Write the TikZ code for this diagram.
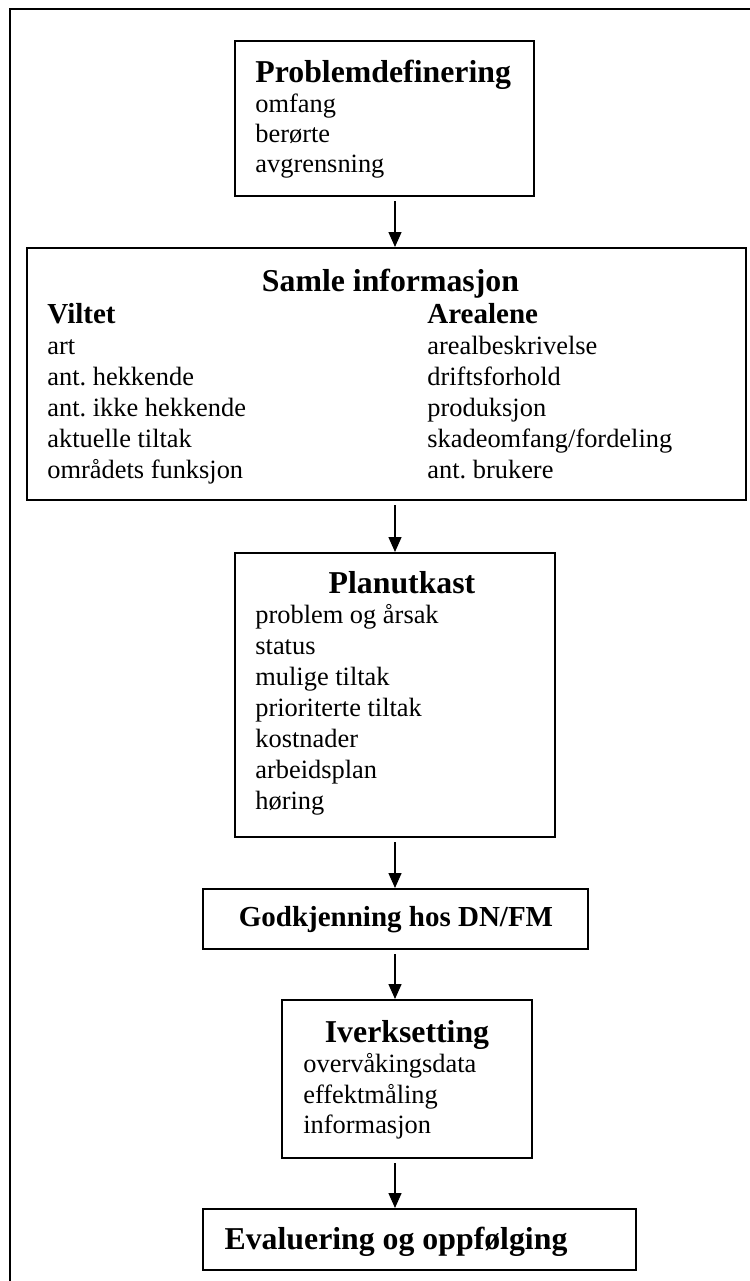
\documentclass[tikz,border=0pt]{standalone}
\usepackage{fontspec}
\setmainfont{Liberation Serif}
\usetikzlibrary{arrows.meta, positioning, calc}
\frenchspacing

\begin{document}
\begin{tikzpicture}[
    x=0.5pt, y=-0.5pt,
    frame/.style={draw=black, line width=1pt},
    box/.style={draw=black, line width=1pt, inner sep=0pt},
    arrow/.style={-{Triangle[length=7.5pt, width=6.5pt]}, line width=0.7pt, shorten <=2pt},
    heading/.style={inner sep=0pt, font=\fontsize{15.9}{18}\selectfont\bfseries},
    subheading/.style={inner sep=0pt, font=\fontsize{14.5}{17}\selectfont\bfseries},
    item/.style={inner sep=0pt, font=\fontsize{13.2}{15}\selectfont}
  ]

  \useasboundingbox (0,0) rectangle (750,1281);

  % page frame (top and left edge only)
  \draw[frame] (750,9) -| (10,1281);

  % common vertical line for the arrows
  \coordinate (spine) at (395,0);

  % Problemdefinering
  \node[box, minimum width=149.5pt, minimum height=77.5pt] (prob) at (384.5,118.5) {};
  \node[heading, anchor=base west] (prob-title) at (255,82) {Problemdefinering};
  \foreach \txt [count=\i] in {omfang, berørte, avgrensning}
    \node[item, anchor=base west] (prob-\i) at (255,{82+30.3*\i}) {\txt};

  % Samle informasjon, two columns
  \node[box, minimum width=359.5pt, minimum height=126pt] (samle) at (386.5,374) {};
  \node[heading, anchor=base] (samle-title) at (390.5,291) {Samle informasjon};
  \node[subheading, anchor=base west] (vilt) at (47,323) {Viltet};
  \node[subheading, anchor=base west] (areal) at (427,323) {Arealene};
  \foreach \txt [count=\i] in {art, ant. hekkende, ant. ikke hekkende, aktuelle tiltak, områdets funksjon}
    \node[item, anchor=base west] (vilt-\i) at (47,{323+31*\i}) {\txt};
  \foreach \txt [count=\i] in {arealbeskrivelse, driftsforhold, produksjon, skadeomfang/fordeling, ant. brukere}
    \node[item, anchor=base west] (areal-\i) at (427,{323+31*\i}) {\txt};

  % Planutkast
  \node[box, minimum width=160pt, minimum height=142pt] (plan) at (395,695) {};
  \node[heading, anchor=base] (plan-title) at (402,593) {Planutkast};
  \foreach \txt [count=\i] in {problem og årsak, status, mulige tiltak, prioriterte tiltak, kostnader, arbeidsplan, høring}
    \node[item, anchor=base west] (plan-\i) at (255,{593+30.9*\i}) {\txt};

  % Godkjenning
  \node[box, minimum width=192.5pt, minimum height=30pt] (godk) at (395.5,919) {};
  \node[subheading, anchor=base] (godk-title) at (396,926) {Godkjenning hos DN/FM};

  % Iverksetting
  \node[box, minimum width=125pt, minimum height=79pt] (iverk) at (407,1079) {};
  \node[heading, anchor=base] (iverk-title) at (407,1042) {Iverksetting};
  \foreach \txt [count=\i] in {overvåkingsdata, effektmåling, informasjon}
    \node[item, anchor=base west] (iverk-\i) at (303,{1042+30.5*\i}) {\txt};

  % Evaluering
  \node[box, minimum width=216.5pt, minimum height=30.5pt] (eval) at (419.5,1239.5) {};
  \node[heading, anchor=base] (eval-title) at (396,1249) {Evaluering og oppfølging};

  % arrows between the steps
  \draw[arrow] (prob.south -| spine) -- (samle.north -| spine);
  \draw[arrow] (samle.south -| spine) -- (plan.north -| spine);
  \draw[arrow] (plan.south -| spine) -- (godk.north -| spine);
  \draw[arrow] (godk.south -| spine) -- (iverk.north -| spine);
  \draw[arrow] (iverk.south -| spine) -- (eval.north -| spine);

\end{tikzpicture}
\end{document}
